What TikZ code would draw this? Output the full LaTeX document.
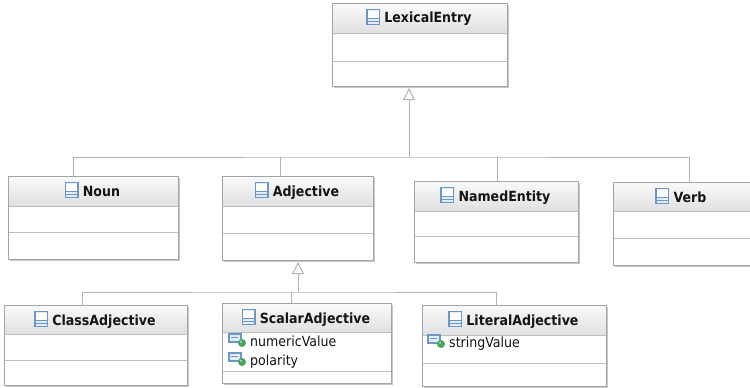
\documentclass[tikz,border=0pt]{standalone}
\usepackage{fontspec}
\setmainfont{DejaVu Sans Condensed}
\usetikzlibrary{arrows.meta,shadows}
\definecolor{bord}{HTML}{A4A4A4}
\definecolor{sepc}{HTML}{BEBEBE}
\definecolor{connc}{HTML}{B2B2B2}
\definecolor{hdrtop}{HTML}{FAFAFA}
\definecolor{hdrbot}{HTML}{E0E0E0}
\definecolor{txt}{HTML}{141414}
\definecolor{icblue}{HTML}{6A97C8}
\definecolor{icfill}{HTML}{E3ECF7}
\definecolor{icgreen}{HTML}{4CA45A}
\tikzset{
  classbox/.style={draw=bord, fill=white, line width=1pt, inner sep=0pt, outer sep=0pt,
    drop shadow={shadow xshift=1.5pt, shadow yshift=-1.5pt, opacity=0.22, fill=black}},
  sepline/.style={draw=sepc, line width=1pt},
  bordline/.style={draw=bord, line width=1pt},
  titletext/.style={font=\fontsize{14}{16}\selectfont\bfseries, text=txt, inner sep=0pt, anchor=base},
  attrtext/.style={font=\fontsize{14}{16}\selectfont, text=txt, inner sep=0pt, anchor=base west},
  conn/.style={draw=connc, line width=1pt},
  gen/.style={conn, -{Triangle[open, length=12pt, width=12pt, fill=white]}, shorten >=2pt}
}
\newcommand\clsicon[1]{%
  \begin{scope}[shift={(#1)}]
    \fill[icfill] (-1,-14) rectangle (13,2);
    \fill[white] (0.5,-12.5) rectangle (11.5,-5);
    \draw[icblue, line width=1.4pt] (-0.3,-13.3) rectangle (12.3,1.3);
    \draw[icblue, line width=1pt] (-0.3,-4.5) -- (12.3,-4.5);
    \draw[icblue, line width=1pt] (-0.3,-1.5) -- (12.3,-1.5);
  \end{scope}}
\newcommand\attricon[1]{%
  \begin{scope}[shift={(#1)}]
    \fill[icfill] (-21,-12) rectangle (-9,-4);
    \draw[icblue, line width=1.2pt] (-21,-12) rectangle (-9,-4);
    \draw[icblue, line width=1pt] (-19,-8.5) -- (-12,-8.5);
    \fill[icgreen] (-8,-3) circle (4);
    \fill[white, opacity=0.45] (-9,-4.3) circle (1.3);
  \end{scope}}
% name, x, y, w, h, header height, mid offset, title
\newcommand\uclass[8]{%
  \node[classbox, minimum width=#4pt, minimum height=#5pt, anchor=north west] (#1) at (#2,#3) {};
  \shade[top color=hdrtop, bottom color=hdrbot] (#1.north west) rectangle ([yshift=-#6pt]#1.north east);
  \draw[sepline] ([yshift=-#6pt]#1.north west) -- ([yshift=-#6pt]#1.north east);
  \draw[sepline] ([yshift=-#7pt]#1.north west) -- ([yshift=-#7pt]#1.north east);
  \draw[bordline] (#1.north west) rectangle (#1.south east);
  \node[titletext] (#1t) at ([yshift=-20pt]#1.north) {\hspace*{17pt}#8};
  \clsicon{#1t.base west}}
\newcommand\uattr[3]{%
  \node[attrtext] (#1) at (#2) {#3};
  \attricon{#1.base west}}
\begin{document}
\begin{tikzpicture}[x=1pt, y=-1pt]
\useasboundingbox (0,0) rectangle (750,388);
\fill[white] (0,0) rectangle (750,388);
\uclass{lex}{332}{3}{175}{83}{30}{58}{LexicalEntry}
\uclass{noun}{8}{176}{170}{83}{30}{56}{Noun}
\uclass{adj}{222}{176}{151}{84}{30}{57}{Adjective}
\uclass{ne}{414}{181}{164}{81}{30}{55}{NamedEntity}
\uclass{verb}{613}{182}{137}{83}{29}{56}{Verb}
\uclass{cls}{4}{305}{183}{80}{29}{55}{ClassAdjective}
\uclass{sca}{222}{303}{169}{80}{29}{68}{ScalarAdjective}
\uclass{lit}{422}{305}{184}{81}{30}{58}{LiteralAdjective}
\uattr{sa1}{[xshift=28pt, yshift=-43pt]sca.north west}{numericValue}
\uattr{sa2}{[xshift=28pt, yshift=-62pt]sca.north west}{polarity}
\uattr{la1}{[xshift=27pt, yshift=-42pt]lit.north west}{stringValue}
% generalisation to LexicalEntry
\coordinate (j1) at ([xshift=-10.5pt]lex.south |- 0,157);
\draw[gen] (j1) -- ([xshift=-10.5pt]lex.south);
\draw[conn] ([xshift=-20pt]noun.north) |- (j1) -| ([xshift=8pt]verb.north);
\draw[conn] ([xshift=-17.5pt]adj.north) -- ([xshift=-17.5pt]adj.north |- j1);
\draw[conn] ([xshift=1pt]ne.north) -- ([xshift=1pt]ne.north |- j1);
% generalisation to Adjective
\coordinate (j2) at ([xshift=0.5pt]adj.south |- 0,292);
\draw[gen] (j2) -- ([xshift=0.5pt]adj.south);
\draw[conn] ([xshift=-13.5pt]cls.north) |- (j2) -| ([xshift=-18pt]lit.north);
\draw[conn] ([xshift=-15.5pt]sca.north) -- ([xshift=-15.5pt]sca.north |- j2);
\end{tikzpicture}
\end{document}
